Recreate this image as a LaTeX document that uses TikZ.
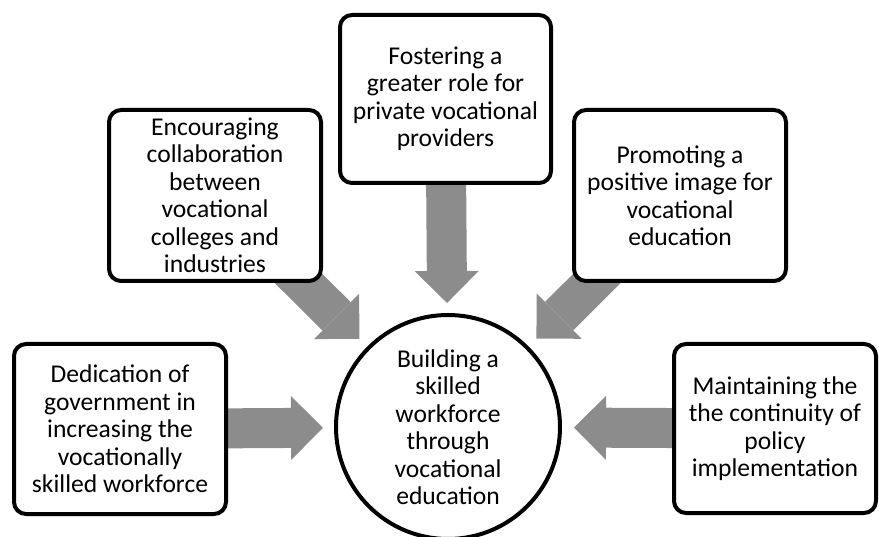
\documentclass[tikz,border=0pt]{standalone}
\usepackage{fontspec}
\setmainfont{Carlito}
\usetikzlibrary{arrows.meta,backgrounds}
\definecolor{arrowgray}{RGB}{140,140,140}

\begin{document}
\begin{tikzpicture}[x=1pt, y=-1pt, font=\fontsize{25.6}{27.5}\selectfont]
    \tikzstyle{box_style} = [draw=black, line width=4pt, rounded corners=12pt, fill=white, align=center, inner sep=0pt, minimum width=212pt, minimum height=170pt]
    \tikzstyle{hub_style} = [draw=black, line width=4pt, circle, fill=white, align=center, inner sep=0pt, minimum size=224pt]
    \tikzstyle{arrow_style} = [arrowgray, line width=40pt, -{Triangle[length=32pt 0 0, width=64pt 0 0, line width=0pt 0 0]}, shorten >=11pt]

    \useasboundingbox (0,0) rectangle (879,537);

    \node[hub_style] (nhub) at (448,427) {Building a\\skilled\\workforce\\through\\vocational\\education};

    \node[box_style] (ngov) at (120,429) {Dedication of\\government in\\increasing the\\vocationally\\skilled workforce};
    \node[box_style, minimum height=171pt] (ncollab) at (215,195.5) {Encouraging\\collaboration\\between\\vocational\\colleges and\\industries};
    \node[box_style, minimum width=211pt, minimum height=168pt] (nprivate) at (445.5,99) {Fostering a\\greater role for\\private vocational\\providers};
    \node[box_style, minimum height=171pt] (nimage) at (680,195.5) {Promoting a\\positive image for\\vocational\\education};
    \node[box_style, minimum width=202pt, minimum height=169pt] (npolicy) at (775,428.5) {Maintaining the\\the continuity of\\policy\\implementation};

    \begin{scope}[on background layer]
        \draw[arrow_style] (ngov.center) -- (nhub);
        \draw[arrow_style] (ncollab.center) -- (nhub);
        \draw[arrow_style, shorten >=10pt] (nprivate.center) -- (nhub);
        \draw[arrow_style] (nimage.center) -- (nhub);
        \draw[arrow_style, shorten >=12pt] (npolicy.center) -- (nhub);
    \end{scope}
\end{tikzpicture}
\end{document}
